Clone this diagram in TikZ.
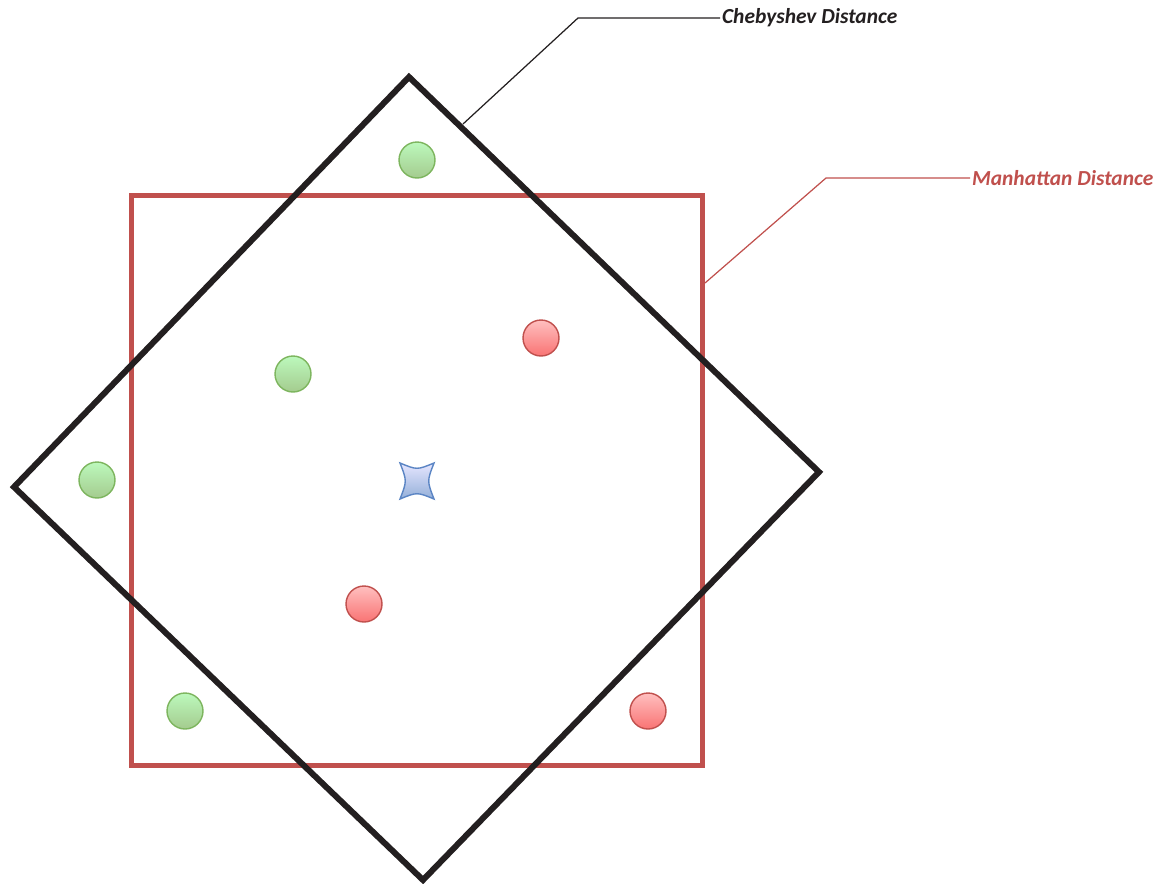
\documentclass[tikz,border=0pt]{standalone}
\usepackage{fontspec}
\newfontfamily\labelfont{Carlito}
\definecolor{mred}{HTML}{C0504D}
\definecolor{cblack}{HTML}{231F20}
\definecolor{gline}{HTML}{7DB55E}
\definecolor{rline}{HTML}{C0504D}
\definecolor{bline}{HTML}{5B85C4}
\tikzset{
  gdot/.style={circle,draw=gline,thick,minimum size=0.72cm,inner sep=0pt,top color=green!25!white!95!gray,bottom color=gline!70!white},
  rdot/.style={circle,draw=rline,thick,minimum size=0.72cm,inner sep=0pt,top color=red!25!white,bottom color=red!55!white!95!gray},
  lbl/.style={anchor=west,inner sep=1pt,font=\labelfont\bfseries\itshape\fontsize{12.2}{14}\selectfont}
}
\begin{document}
\begin{tikzpicture}[x=0.02cm,y=-0.02cm]
\useasboundingbox (0,0) rectangle (1156,883);
% corners of the two shapes
\coordinate (dt) at (409,77);
\coordinate (dr) at (819,472);
\coordinate (db) at (423,880);
\coordinate (dl) at (14,487);
\coordinate (ra) at (131,195);
\coordinate (rb) at (702,765);
\draw[mred,line width=0.1cm] (ra) rectangle (rb);
\draw[cblack,line width=0.12cm,line join=miter] (dt) -- (dr) -- (db) -- (dl) -- cycle;
% points
\foreach \n/\x/\y in {g1/417/160, g2/293/374, g3/97/480, g4/185/711} {
  \node[gdot] (\n) at (\x,\y) {};
}
\foreach \n/\x/\y in {r1/541/338, r2/364/604, r3/648/711} {
  \node[rdot] (\n) at (\x,\y) {};
}
% query point
\shade[top color=blue!10!white,bottom color=bline!65!white,draw=bline,thick]
  (400,463) .. controls (417,470) .. (434,463)
  .. controls (427,481) .. (434,499)
  .. controls (417,492) .. (400,499)
  .. controls (407,481) .. (400,463) -- cycle;
% labels
\node[lbl,text=cblack] (cheb) at (720,18) {Chebyshev Distance};
\node[lbl,text=mred] (manh) at (970,178) {Manhattan Distance};
\coordinate (cpt) at (463,124);
\coordinate (cknee) at (578,18);
\coordinate (mpt) at (705,283);
\coordinate (mknee) at (826,178);
\draw[cblack,line width=0.7pt] (cpt) -- (cknee) -- (cheb.west);
\draw[mred,line width=0.7pt] (mpt) -- (mknee) -- (manh.west);
\end{tikzpicture}
\end{document}
